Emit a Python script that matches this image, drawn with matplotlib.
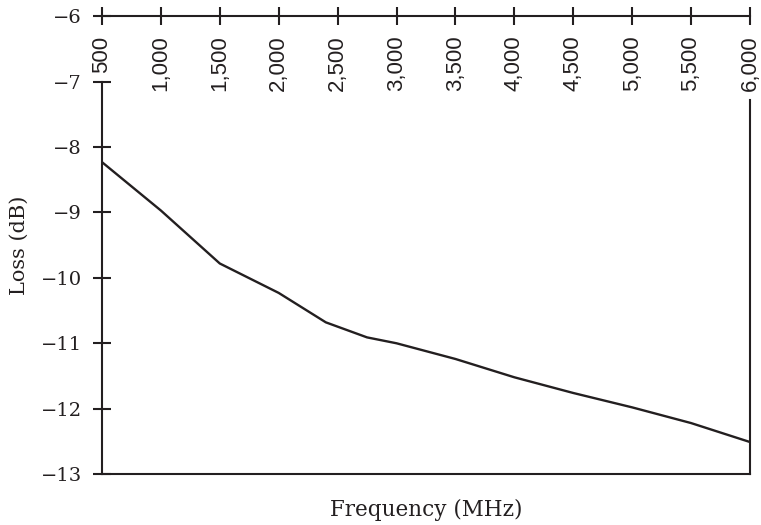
import matplotlib
matplotlib.use("Agg")
import matplotlib.pyplot as plt

# data
freq = [500, 1000, 1500, 2000, 2400, 2750, 3000, 3500, 4000, 4500, 5000, 5500, 6000]
loss = [-8.23, -8.97, -9.78, -10.23, -10.68, -10.91, -11.00, -11.24, -11.52,
        -11.76, -11.98, -12.22, -12.51]

xticks = list(range(500, 6001, 500))
xlabels = [f"{v:,}" for v in xticks]
yticks = list(range(-13, -5))

ink = "#231f20"

fig, ax = plt.subplots(figsize=(7.61, 5.25), dpi=100)
fig.subplots_adjust(left=0.134, right=0.9855, top=0.969, bottom=0.097)

ax.plot(freq, loss, color=ink, lw=1.7)

ax.set_xlim(500, 6000)
ax.set_ylim(-13, -6)

# x ticks on the top spine, labels hanging below it
ax.xaxis.tick_top()
ax.set_xticks(xticks, xlabels, rotation=90, va="top", ha="center",
              family="Liberation Sans", fontsize=16, color=ink)
ax.tick_params(axis="x", direction="inout", length=12.5, width=1.5,
               pad=-20.2, colors=ink)

ax.set_yticks(yticks, [f"\u2212{abs(v)}" for v in yticks],
              family="DejaVu Serif", fontsize=14, color=ink)
ax.tick_params(axis="y", direction="inout", length=12.5, width=1.5,
               pad=8, colors=ink)

# spines
for s in ax.spines.values():
    s.set_linewidth(1.5)
    s.set_color(ink)
ax.spines["left"].set_bounds(-13, -7)
ax.spines["right"].set_bounds(-13, -7.28)

# labels
ax.xaxis.set_label_position("bottom")
ax.set_xlabel("Frequency (MHz)", family="DejaVu Serif", fontsize=15.5,
              color=ink, labelpad=18)
ax.set_ylabel("Loss (dB)", family="DejaVu Serif", fontsize=15,
              color=ink, labelpad=9)

fig.savefig("out.png", dpi=100)
